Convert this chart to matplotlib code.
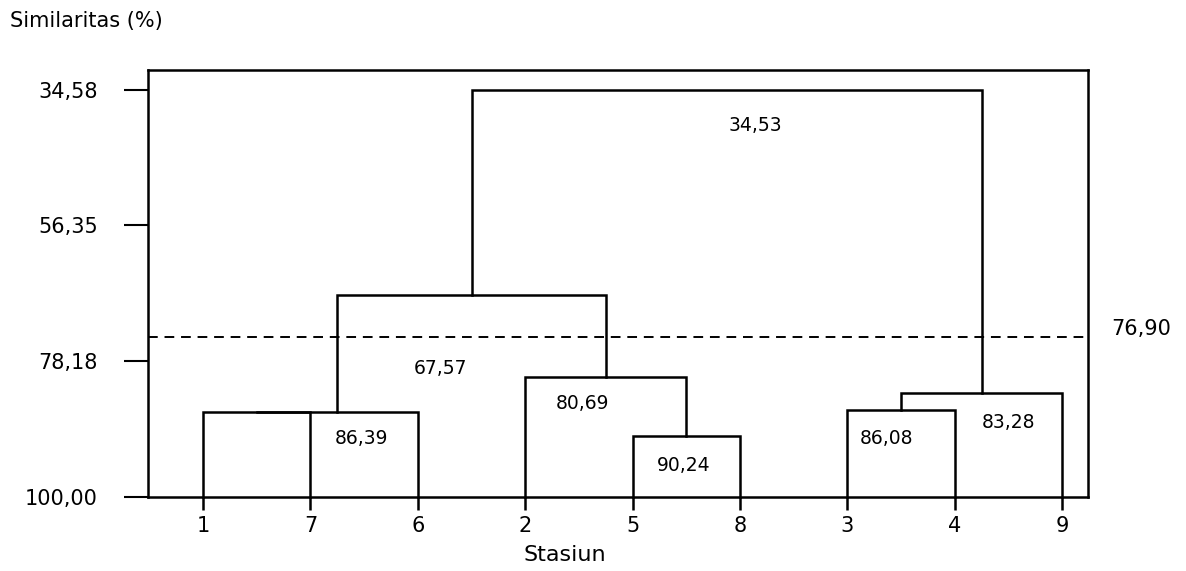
import matplotlib
matplotlib.use("Agg")
import matplotlib.pyplot as plt
from matplotlib.transforms import blended_transform_factory

# ---- data ----
leaf_labels = ['1', '7', '6', '2', '5', '8', '3', '4', '9']
# merges: (child_a, child_b, similarity); ids 0..8 are leaves, new clusters get 9, 10, ...
merge_a = [0, 9, 4, 3, 10, 6, 14, 13]
merge_b = [1, 2, 5, 11, 12, 7, 8, 15]
merge_sim = [86.39, 86.39, 90.24, 80.69, 67.57, 86.08, 83.28, 34.53]
shown_labels = ['86,39', '90,24', '80,69', '67,57', '86,08', '83,28', '34,53']
y_ticks = [34.58, 56.35, 78.18, 100.00]
cut_value_label = '76,90'
cut_line_level = 74.3

# ---- figure ----
fig = plt.figure(figsize=(11.86, 5.71), dpi=100)
ax = fig.add_axes([148/1186, 1-497/571, 940/1186, 427/571])

n = len(leaf_labels)
xpos = {i: float(i) for i in range(n)}
ypos = {i: 100.0 for i in range(n)}
lw = 1.8
for k, (a, b, s) in enumerate(zip(merge_a, merge_b, merge_sim)):
    cid = n + k
    xa, xb = xpos[a], xpos[b]
    ax.plot([xa, xa, xb, xb], [ypos[a], s, s, ypos[b]], color='black', lw=lw,
            solid_joinstyle='miter', clip_on=False)
    xpos[cid] = (xa + xb) / 2
    ypos[cid] = s

ax.axhline(cut_line_level, color='black', lw=1.4, ls=(0, (5, 3.5)))

ax.set_xlim(-0.512, 8.24)
ax.set_ylim(100, 31.37)

ax.set_yticks(y_ticks)
ax.set_yticklabels([f"{v:.2f}".replace('.', ',') for v in y_ticks], fontsize=15)
ax.set_xticks(range(n))
ax.set_xticklabels(leaf_labels, fontsize=15)
ax.tick_params(axis='y', length=17, width=1.5, pad=19)
ax.tick_params(axis='x', length=9, width=1.8, pad=5)
for sp in ax.spines.values():
    sp.set_linewidth(1.8)

# value labels (positions chosen to match the reference layout)
label_pos = [(1.48, 90.52), (4.48, 94.86), (3.53, 85.05), (2.21, 79.27),
             (6.36, 90.52), (7.50, 87.95), (5.14, 40.21)]
for txt, (x, y) in zip(shown_labels, label_pos):
    ax.text(x, y, txt, fontsize=13.5, ha='center', va='center')

tr = blended_transform_factory(ax.transAxes, ax.transData)
ax.text(1.057, 73.0, cut_value_label, transform=tr, fontsize=15, ha='center', va='center')

fig.text(10/1186, 1-21/571, 'Similaritas (%)', fontsize=15, ha='left', va='center')
fig.text(565/1186, 1-555/571, 'Stasiun', fontsize=16, ha='center', va='center')

fig.savefig('out.png', dpi=100)
